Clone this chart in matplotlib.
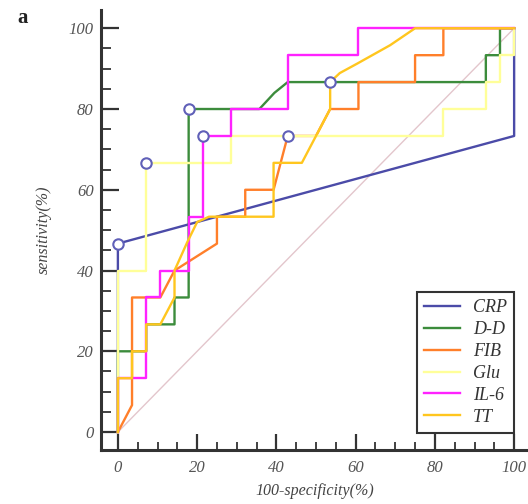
import matplotlib
matplotlib.use('Agg')
from matplotlib import pyplot as plt
from matplotlib.ticker import MultipleLocator

# ROC curves, x = 100-specificity (%), y = sensitivity (%)
crp_x = [0, 0, 0, 100, 100, 100]
crp_y = [0, 40, 46.67, 73.33, 93.33, 100]

dd_x = [0, 0, 7.14, 7.14, 14.29, 14.29, 17.86, 17.86, 35.71, 39.5, 42.86,
        92.86, 92.86, 96.43, 96.43, 100]
dd_y = [0, 20, 20, 26.67, 26.67, 33.33, 33.33, 80, 80, 84, 86.67,
        86.67, 93.33, 93.33, 100, 100]

fib_x = [0, 3.57, 3.57, 10.71, 14.29, 25, 25, 32.14, 32.14, 39.29, 42.86,
         50, 53.57, 60.71, 60.71, 75, 75, 82.14, 82.14, 100]
fib_y = [0, 6.67, 33.33, 33.33, 40, 46.67, 53.33, 53.33, 60, 60, 73.33,
         73.33, 80, 80, 86.67, 86.67, 93.33, 93.33, 100, 100]

glu_x = [0, 0, 7.14, 7.14, 28.57, 28.57, 82.14, 82.14, 92.86, 92.86,
         96.43, 96.43, 100, 100]
glu_y = [0, 40, 40, 66.67, 66.67, 73.33, 73.33, 80, 80, 86.67,
         86.67, 93.33, 93.33, 100]

il6_x = [0, 0, 7.14, 7.14, 10.71, 10.71, 17.86, 17.86, 21.43, 21.43, 28.57,
         28.57, 42.86, 42.86, 60.71, 60.71, 100]
il6_y = [0, 13.33, 13.33, 33.33, 33.33, 40, 40, 53.33, 53.33, 73.33, 73.33,
         80, 80, 93.33, 93.33, 100, 100]

tt_x = [0, 0, 3.57, 3.57, 7.14, 7.14, 10.71, 14.29, 14.29, 17.5, 20, 23,
        39.29, 39.29, 46.43, 53.57, 53.57, 56, 60.5, 68.7, 75, 100]
tt_y = [0, 13.33, 13.33, 20, 20, 26.67, 26.67, 33.33, 40, 47, 52, 53.33,
        53.33, 66.67, 66.67, 80, 86.67, 88.9, 91.3, 95.8, 100, 100]

# optimal cut-off points
cut_x = [0, 17.86, 42.86, 7.14, 21.43, 53.57]
cut_y = [46.67, 80, 73.33, 66.67, 73.33, 86.67]

names = ['CRP', 'D-D', 'FIB', 'Glu', 'IL-6', 'TT']
colors = ['#4b4ba8', '#3c8c3c', '#ff7f2a', '#ffff99', '#ff22ff', '#ffc61e']
curves = [(crp_x, crp_y), (dd_x, dd_y), (fib_x, fib_y),
          (glu_x, glu_y), (il6_x, il6_y), (tt_x, tt_y)]

plt.rcParams['font.family'] = ['Liberation Serif', 'DejaVu Serif']

fig = plt.figure(figsize=(5.28, 5.04), dpi=100)
ax = fig.add_axes([0.191, 0.107, 0.809, 0.873])

ax.plot([0, 100], [0, 100], color='#e3c6cc', lw=1.0, zorder=1)
for (xs, ys), name, c in zip(curves, names, colors):
    ax.plot(xs, ys, color=c, lw=1.7, label=name, zorder=2)
ax.plot(cut_x, cut_y, 'o', ms=7.5, mfc='white', mec='#6060b8', mew=1.5,
        zorder=5)

ax.set_xlim(-4.3, 103.5)
ax.set_ylim(-4.46, 104.5)
for side in ['top', 'right']:
    ax.spines[side].set_visible(False)
for side in ['left', 'bottom']:
    ax.spines[side].set_linewidth(2.2)
    ax.spines[side].set_color('#333333')

ax.xaxis.set_major_locator(MultipleLocator(20))
ax.xaxis.set_minor_locator(MultipleLocator(5))
ax.yaxis.set_major_locator(MultipleLocator(20))
ax.yaxis.set_minor_locator(MultipleLocator(5))
ax.tick_params(axis='y', which='major', direction='in', length=13, width=1.6,
               color='#333333', pad=5)
ax.tick_params(axis='y', which='minor', direction='in', length=7, width=1.3,
               color='#333333')
ax.tick_params(axis='x', which='major', direction='in', length=11.5,
               width=1.6, color='#333333', pad=7)
ax.tick_params(axis='x', which='minor', direction='in', length=6, width=1.3,
               color='#333333')
for lab in ax.get_xticklabels() + ax.get_yticklabels():
    lab.set_fontstyle('italic')
    lab.set_fontsize(12)
    lab.set_color('#555555')

ax.set_xlabel('100-specificity(%)', fontstyle='italic', fontsize=11.5,
              color='#444444', labelpad=5)
ax.set_ylabel('sensitivity(%)', fontstyle='italic', fontsize=11.5,
              color='#444444', labelpad=12)

leg = ax.legend(loc='lower left', bbox_to_anchor=(0.740, 0.039),
                borderaxespad=0, fancybox=False, framealpha=1,
                handlelength=2.0, handletextpad=0.7, labelspacing=0.27,
                borderpad=0.4,
                prop={'style': 'italic', 'size': 13})
leg.get_frame().set_edgecolor('#333333')
leg.get_frame().set_linewidth(1.5)
for t in leg.get_texts():
    t.set_color('#333333')

fig.text(0.033, 0.955, 'a', fontsize=15, fontweight='bold', color='#222222')

fig.savefig('out.png', dpi=100)
